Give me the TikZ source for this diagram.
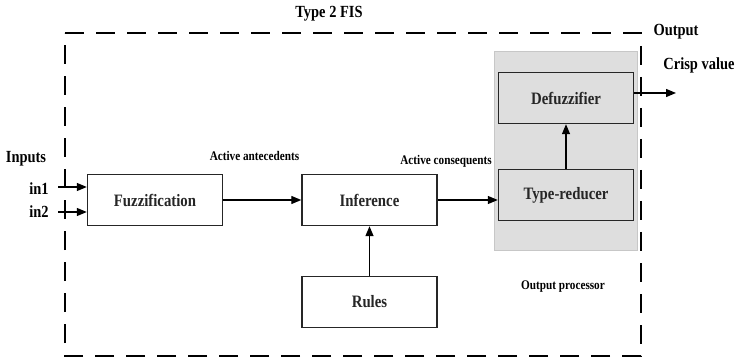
\documentclass[tikz,border=0pt]{standalone}
\usepackage{fontspec}
\setmainfont{Liberation Serif}[FakeStretch=0.85]
\usetikzlibrary{arrows.meta}
\begin{document}
\begin{tikzpicture}[x=1pt,y=-1pt,
  blk/.style={draw=black!85,line width=1.4pt,minimum width=135pt,minimum height=51pt,inner sep=0pt,font=\bfseries\fontsize{17.4}{19}\selectfont,text=black!85},
  lbl/.style={font=\bfseries\fontsize{17}{19}\selectfont,inner sep=0pt,anchor=base},
  slbl/.style={font=\bfseries\fontsize{13.2}{15}\selectfont,inner sep=0pt,anchor=base},
  arr/.style={line width=1.3pt,-{Triangle[length=10pt,width=8pt]}},
  frame/.style={line width=2.6pt,dash pattern=on 19pt off 12pt}]
\useasboundingbox (0,0) rectangle (738,363);
% gray output processor region
\node[fill=black!13,draw=black!22,line width=0.8pt,minimum width=143pt,minimum height=199pt,inner sep=0pt] (proc) at (565.5,150.5) {};
% dashed frame
\draw[frame] (65,33) -- (641,33) -- (641,356) -- (65,356) -- cycle;
% blocks
\node[blk] (fuz) at (155,200) {Fuzzification};
\node[blk] (inf) at (369.5,200) {Inference};
\node[blk] (rul) at (369.5,302) {Rules};
\node[blk,fill=black!13] (tr) at (566,195) {Type-reducer};
\node[blk,fill=black!13] (def) at (566,98) {Defuzzifier};
% texts
\node[lbl] (t2) at (329,18) {Type 2 FIS};
\node[lbl] (out) at (676,36) {Output};
\node[lbl] (crisp) at (699,70) {Crisp value};
\node[lbl] (inp) at (26,163) {Inputs};
\node[lbl] (in1) at (39,195) {in1};
\node[lbl] (in2) at (39,218) {in2};
\node[slbl] (aa) at (254.5,161) {Active antecedents};
\node[slbl] (ac) at (446,165) {Active consequents};
\node[slbl] (op) at (563,289) {Output processor};
\coordinate (o) at (676,93);
\coordinate (i1) at (58,187);
\coordinate (i2) at (58,212);
% connectors
\draw[arr] (i1) -- (fuz.west |- i1);
\draw[arr] (i2) -- (fuz.west |- i2);
\draw[arr] (fuz.east) -- (inf.west);
\draw[arr] (inf.east) -- (tr.west |- inf.east);
\draw[arr] (rul.north) -- (inf.south);
\draw[arr] (tr.north) -- (def.south);
\draw[arr] (def.east |- o) -- (o);
\end{tikzpicture}
\end{document}
